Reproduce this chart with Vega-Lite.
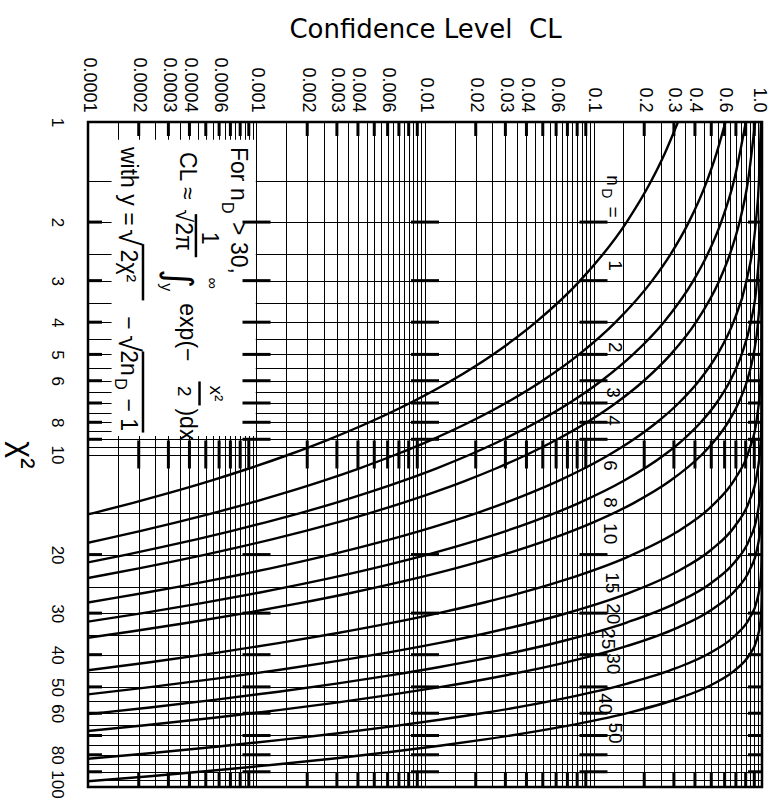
{
"$schema":"https://vega.github.io/schema/vega-lite/v6.json",
"width":674,"height":665,
"autosize":{"type":"none"},
"padding":{"left":88,"top":122,"right":7,"bottom":13},
"background":"white",
"config":{"view":{"stroke":"#000","strokeWidth":2.5},"font":"Liberation Sans"},
"datasets":{
"box":[{"cl":0.000138,"cl2":0.00099,"chi2":1.13,"chi22":8.8}],
"curves":[
{"n":1,"chi2":1,"cl":0.3173},{"n":1,"chi2":1.25,"cl":0.2636},{"n":1,"chi2":1.5,"cl":0.2207},{"n":1,"chi2":2,"cl":0.1573},{"n":1,"chi2":3,"cl":0.0833},{"n":1,"chi2":4,"cl":0.0455},{"n":1,"chi2":5,"cl":0.02535},{"n":1,"chi2":6,"cl":0.01431},{"n":1,"chi2":7,"cl":0.00815},{"n":1,"chi2":8,"cl":0.00468},{"n":1,"chi2":9,"cl":0.0027},{"n":1,"chi2":10,"cl":0.001565},{"n":1,"chi2":11,"cl":0.000911},{"n":1,"chi2":12,"cl":0.000532},{"n":1,"chi2":13,"cl":0.000311},{"n":1,"chi2":14,"cl":0.000183},{"n":1,"chi2":15,"cl":0.0001076},{"n":1,"chi2":16,"cl":0.0000633},
{"n":2,"chi2":1,"cl":0.6065},{"n":2,"chi2":1.25,"cl":0.5353},{"n":2,"chi2":1.5,"cl":0.4724},{"n":2,"chi2":2,"cl":0.3679},{"n":2,"chi2":2.5,"cl":0.2865},{"n":2,"chi2":3,"cl":0.2231},{"n":2,"chi2":4,"cl":0.1353},{"n":2,"chi2":5,"cl":0.0821},{"n":2,"chi2":6,"cl":0.04979},{"n":2,"chi2":7,"cl":0.0302},{"n":2,"chi2":8,"cl":0.01832},{"n":2,"chi2":9,"cl":0.01111},{"n":2,"chi2":10,"cl":0.006738},{"n":2,"chi2":11,"cl":0.004087},{"n":2,"chi2":12,"cl":0.002479},{"n":2,"chi2":13,"cl":0.001503},{"n":2,"chi2":14,"cl":0.000912},{"n":2,"chi2":15,"cl":0.000553},{"n":2,"chi2":16,"cl":0.000335},{"n":2,"chi2":17,"cl":0.0002035},{"n":2,"chi2":18,"cl":0.0001234},{"n":2,"chi2":19,"cl":0.0000749},{"n":2,"chi2":20,"cl":0.0000454},
{"n":3,"chi2":1,"cl":0.8013},{"n":3,"chi2":1.5,"cl":0.6823},{"n":3,"chi2":2,"cl":0.5724},{"n":3,"chi2":2.5,"cl":0.4753},{"n":3,"chi2":3,"cl":0.3916},{"n":3,"chi2":4,"cl":0.2615},{"n":3,"chi2":5,"cl":0.1718},{"n":3,"chi2":6,"cl":0.1116},{"n":3,"chi2":7,"cl":0.0719},{"n":3,"chi2":8,"cl":0.046},{"n":3,"chi2":9,"cl":0.02929},{"n":3,"chi2":10,"cl":0.01857},{"n":3,"chi2":11,"cl":0.01173},{"n":3,"chi2":12,"cl":0.00738},{"n":3,"chi2":13,"cl":0.004636},{"n":3,"chi2":14,"cl":0.00291},{"n":3,"chi2":15,"cl":0.001817},{"n":3,"chi2":16,"cl":0.001134},{"n":3,"chi2":17,"cl":0.000707},{"n":3,"chi2":18,"cl":0.00044},{"n":3,"chi2":19,"cl":0.000273},{"n":3,"chi2":20,"cl":0.00017},{"n":3,"chi2":21,"cl":0.0001053},{"n":3,"chi2":22,"cl":0.000065},
{"n":4,"chi2":1,"cl":0.9098},{"n":4,"chi2":1.5,"cl":0.8266},{"n":4,"chi2":2,"cl":0.7358},{"n":4,"chi2":2.5,"cl":0.6446},{"n":4,"chi2":3,"cl":0.5578},{"n":4,"chi2":4,"cl":0.406},{"n":4,"chi2":5,"cl":0.2873},{"n":4,"chi2":6,"cl":0.1991},{"n":4,"chi2":7,"cl":0.1359},{"n":4,"chi2":8,"cl":0.0916},{"n":4,"chi2":9,"cl":0.0611},{"n":4,"chi2":10,"cl":0.04043},{"n":4,"chi2":11,"cl":0.02656},{"n":4,"chi2":12,"cl":0.01735},{"n":4,"chi2":13,"cl":0.01128},{"n":4,"chi2":14,"cl":0.007295},{"n":4,"chi2":15,"cl":0.004701},{"n":4,"chi2":16,"cl":0.003019},{"n":4,"chi2":17,"cl":0.001933},{"n":4,"chi2":18,"cl":0.001234},{"n":4,"chi2":19,"cl":0.000786},{"n":4,"chi2":20,"cl":0.000499},{"n":4,"chi2":21,"cl":0.0003167},{"n":4,"chi2":22,"cl":0.0002004},{"n":4,"chi2":23,"cl":0.0001266},{"n":4,"chi2":24,"cl":0.0000799},{"n":4,"chi2":25,"cl":0.0000503},
{"n":6,"chi2":1,"cl":0.9856},{"n":6,"chi2":1.5,"cl":0.9595},{"n":6,"chi2":2,"cl":0.9197},{"n":6,"chi2":3,"cl":0.8088},{"n":6,"chi2":4,"cl":0.6767},{"n":6,"chi2":5,"cl":0.5438},{"n":6,"chi2":6,"cl":0.4232},{"n":6,"chi2":7,"cl":0.3208},{"n":6,"chi2":8,"cl":0.2381},{"n":6,"chi2":9,"cl":0.1736},{"n":6,"chi2":10,"cl":0.1247},{"n":6,"chi2":11,"cl":0.08838},{"n":6,"chi2":12,"cl":0.06197},{"n":6,"chi2":13,"cl":0.04304},{"n":6,"chi2":14,"cl":0.02964},{"n":6,"chi2":15,"cl":0.02026},{"n":6,"chi2":16,"cl":0.01375},{"n":6,"chi2":17,"cl":0.009283},{"n":6,"chi2":18,"cl":0.006232},{"n":6,"chi2":19,"cl":0.004164},{"n":6,"chi2":20,"cl":0.002769},{"n":6,"chi2":21,"cl":0.001835},{"n":6,"chi2":22,"cl":0.001211},{"n":6,"chi2":23,"cl":0.0007965},{"n":6,"chi2":24,"cl":0.000522},{"n":6,"chi2":25,"cl":0.0003415},{"n":6,"chi2":26,"cl":0.0002226},{"n":6,"chi2":27,"cl":0.0001448},{"n":6,"chi2":28,"cl":0.000094},{"n":6,"chi2":29,"cl":0.0000608},{"n":6,"chi2":30,"cl":0.0000393},
{"n":8,"chi2":1,"cl":0.99825},{"n":8,"chi2":1.5,"cl":0.9928},{"n":8,"chi2":2,"cl":0.981},{"n":8,"chi2":3,"cl":0.9344},{"n":8,"chi2":4,"cl":0.8571},{"n":8,"chi2":5,"cl":0.7576},{"n":8,"chi2":6,"cl":0.6472},{"n":8,"chi2":7,"cl":0.5366},{"n":8,"chi2":8,"cl":0.4335},{"n":8,"chi2":9,"cl":0.3423},{"n":8,"chi2":10,"cl":0.265},{"n":8,"chi2":12,"cl":0.1512},{"n":8,"chi2":14,"cl":0.08177},{"n":8,"chi2":16,"cl":0.04238},{"n":8,"chi2":18,"cl":0.02123},{"n":8,"chi2":20,"cl":0.01034},{"n":8,"chi2":22,"cl":0.004916},{"n":8,"chi2":24,"cl":0.002292},{"n":8,"chi2":26,"cl":0.00105},{"n":8,"chi2":28,"cl":0.000474},{"n":8,"chi2":30,"cl":0.0002114},{"n":8,"chi2":32,"cl":0.0000931},{"n":8,"chi2":34,"cl":0.0000406},
{"n":10,"chi2":1,"cl":0.99983},{"n":10,"chi2":1.5,"cl":0.99894},{"n":10,"chi2":2,"cl":0.99634},{"n":10,"chi2":3,"cl":0.98142},{"n":10,"chi2":4,"cl":0.94735},{"n":10,"chi2":5,"cl":0.89118},{"n":10,"chi2":6,"cl":0.81526},{"n":10,"chi2":7,"cl":0.72544},{"n":10,"chi2":8,"cl":0.62884},{"n":10,"chi2":9,"cl":0.5321},{"n":10,"chi2":10,"cl":0.44049},{"n":10,"chi2":12,"cl":0.28506},{"n":10,"chi2":14,"cl":0.17299},{"n":10,"chi2":16,"cl":0.09963},{"n":10,"chi2":18,"cl":0.05496},{"n":10,"chi2":20,"cl":0.029253},{"n":10,"chi2":22,"cl":0.015104},{"n":10,"chi2":24,"cl":0.0076},{"n":10,"chi2":26,"cl":0.00374},{"n":10,"chi2":28,"cl":0.001805},{"n":10,"chi2":30,"cl":0.000857},{"n":10,"chi2":32,"cl":0.0004004},{"n":10,"chi2":34,"cl":0.0001847},{"n":10,"chi2":36,"cl":0.0000842},{"n":10,"chi2":38,"cl":0.000038},
{"n":15,"chi2":0.8,"cl":0.9999997},{"n":15,"chi2":1.256,"cl":0.9999966},{"n":15,"chi2":1.856,"cl":0.99997},{"n":15,"chi2":2.623,"cl":0.99977},{"n":15,"chi2":3.575,"cl":0.99865},{"n":15,"chi2":4.735,"cl":0.99379},{"n":15,"chi2":6.122,"cl":0.97725},{"n":15,"chi2":7.755,"cl":0.93319},{"n":15,"chi2":9.657,"cl":0.84134},{"n":15,"chi2":11.846,"cl":0.69146},{"n":15,"chi2":14.343,"cl":0.5},{"n":15,"chi2":17.168,"cl":0.30854},{"n":15,"chi2":20.343,"cl":0.15866},{"n":15,"chi2":23.886,"cl":0.066807},{"n":15,"chi2":27.819,"cl":0.02275},{"n":15,"chi2":29.938,"cl":0.012224},{"n":15,"chi2":32.161,"cl":0.00621},{"n":15,"chi2":34.492,"cl":0.00298},{"n":15,"chi2":36.933,"cl":0.00135},{"n":15,"chi2":39.486,"cl":0.000577},{"n":15,"chi2":42.155,"cl":0.000233},{"n":15,"chi2":44.941,"cl":0.0000884},{"n":15,"chi2":47.848,"cl":0.0000317},
{"n":20,"chi2":0.906,"cl":0.999999999},{"n":20,"chi2":1.37,"cl":0.99999998},{"n":20,"chi2":1.97,"cl":0.9999997},{"n":20,"chi2":2.726,"cl":0.9999966},{"n":20,"chi2":3.651,"cl":0.99997},{"n":20,"chi2":4.766,"cl":0.99977},{"n":20,"chi2":6.087,"cl":0.99865},{"n":20,"chi2":7.633,"cl":0.99379},{"n":20,"chi2":9.421,"cl":0.97725},{"n":20,"chi2":11.468,"cl":0.93319},{"n":20,"chi2":13.792,"cl":0.84134},{"n":20,"chi2":16.41,"cl":0.69146},{"n":20,"chi2":19.341,"cl":0.5},{"n":20,"chi2":22.601,"cl":0.30854},{"n":20,"chi2":26.208,"cl":0.15866},{"n":20,"chi2":30.18,"cl":0.066807},{"n":20,"chi2":34.535,"cl":0.02275},{"n":20,"chi2":36.861,"cl":0.012224},{"n":20,"chi2":39.289,"cl":0.00621},{"n":20,"chi2":41.822,"cl":0.00298},{"n":20,"chi2":44.461,"cl":0.00135},{"n":20,"chi2":47.209,"cl":0.000577},{"n":20,"chi2":50.068,"cl":0.000233},{"n":20,"chi2":53.039,"cl":0.0000884},{"n":20,"chi2":56.127,"cl":0.0000317},
{"n":25,"chi2":0.908,"cl":0.9999999999},{"n":25,"chi2":1.925,"cl":0.999999999},{"n":25,"chi2":2.638,"cl":0.99999998},{"n":25,"chi2":3.509,"cl":0.9999997},{"n":25,"chi2":4.553,"cl":0.9999966},{"n":25,"chi2":5.787,"cl":0.99997},{"n":25,"chi2":7.224,"cl":0.99977},{"n":25,"chi2":8.882,"cl":0.99865},{"n":25,"chi2":10.777,"cl":0.99379},{"n":25,"chi2":12.923,"cl":0.97725},{"n":25,"chi2":15.336,"cl":0.93319},{"n":25,"chi2":18.033,"cl":0.84134},{"n":25,"chi2":21.029,"cl":0.69146},{"n":25,"chi2":24.339,"cl":0.5},{"n":25,"chi2":27.98,"cl":0.30854},{"n":25,"chi2":31.967,"cl":0.15866},{"n":25,"chi2":36.316,"cl":0.066807},{"n":25,"chi2":41.042,"cl":0.02275},{"n":25,"chi2":43.551,"cl":0.012224},{"n":25,"chi2":46.161,"cl":0.00621},{"n":25,"chi2":48.873,"cl":0.00298},{"n":25,"chi2":51.689,"cl":0.00135},{"n":25,"chi2":54.612,"cl":0.000577},{"n":25,"chi2":57.642,"cl":0.000233},{"n":25,"chi2":60.783,"cl":0.0000884},{"n":25,"chi2":64.035,"cl":0.0000317},
{"n":30,"chi2":0.843,"cl":1},{"n":30,"chi2":1.781,"cl":0.999999999999},{"n":30,"chi2":3.239,"cl":0.999999999},{"n":30,"chi2":4.199,"cl":0.99999998},{"n":30,"chi2":5.333,"cl":0.9999997},{"n":30,"chi2":6.653,"cl":0.9999966},{"n":30,"chi2":8.175,"cl":0.99997},{"n":30,"chi2":9.914,"cl":0.99977},{"n":30,"chi2":11.883,"cl":0.99865},{"n":30,"chi2":14.096,"cl":0.99379},{"n":30,"chi2":16.569,"cl":0.97725},{"n":30,"chi2":19.315,"cl":0.93319},{"n":30,"chi2":22.349,"cl":0.84134},{"n":30,"chi2":25.686,"cl":0.69146},{"n":30,"chi2":29.338,"cl":0.5},{"n":30,"chi2":33.322,"cl":0.30854},{"n":30,"chi2":37.651,"cl":0.15866},{"n":30,"chi2":42.339,"cl":0.066807},{"n":30,"chi2":47.401,"cl":0.02275},{"n":30,"chi2":50.077,"cl":0.012224},{"n":30,"chi2":52.852,"cl":0.00621},{"n":30,"chi2":55.727,"cl":0.00298},{"n":30,"chi2":58.705,"cl":0.00135},{"n":30,"chi2":61.787,"cl":0.000577},{"n":30,"chi2":64.975,"cl":0.000233},{"n":30,"chi2":68.271,"cl":0.0000884},{"n":30,"chi2":71.676,"cl":0.0000317},
{"n":40,"chi2":0.9,"cl":1},{"n":40,"chi2":4.22,"cl":0.999999999999},{"n":40,"chi2":6.555,"cl":0.999999999},{"n":40,"chi2":7.987,"cl":0.99999998},{"n":40,"chi2":9.615,"cl":0.9999997},{"n":40,"chi2":11.449,"cl":0.9999966},{"n":40,"chi2":13.504,"cl":0.99997},{"n":40,"chi2":15.79,"cl":0.99977},{"n":40,"chi2":18.321,"cl":0.99865},{"n":40,"chi2":21.109,"cl":0.99379},{"n":40,"chi2":24.166,"cl":0.97725},{"n":40,"chi2":27.505,"cl":0.93319},{"n":40,"chi2":31.138,"cl":0.84134},{"n":40,"chi2":35.078,"cl":0.69146},{"n":40,"chi2":39.337,"cl":0.5},{"n":40,"chi2":43.927,"cl":0.30854},{"n":40,"chi2":48.862,"cl":0.15866},{"n":40,"chi2":54.152,"cl":0.066807},{"n":40,"chi2":59.812,"cl":0.02275},{"n":40,"chi2":62.784,"cl":0.012224},{"n":40,"chi2":65.852,"cl":0.00621},{"n":40,"chi2":69.02,"cl":0.00298},{"n":40,"chi2":72.287,"cl":0.00135},{"n":40,"chi2":75.655,"cl":0.000577},{"n":40,"chi2":79.127,"cl":0.000233},{"n":40,"chi2":82.703,"cl":0.0000884},{"n":40,"chi2":86.385,"cl":0.0000317},
{"n":50,"chi2":0.9,"cl":1},{"n":50,"chi2":4.94,"cl":0.9999999999999},{"n":50,"chi2":7.397,"cl":0.999999999999},{"n":50,"chi2":10.562,"cl":0.999999999},{"n":50,"chi2":12.436,"cl":0.99999998},{"n":50,"chi2":14.52,"cl":0.9999997},{"n":50,"chi2":16.825,"cl":0.9999966},{"n":50,"chi2":19.362,"cl":0.99997},{"n":50,"chi2":22.142,"cl":0.99977},{"n":50,"chi2":25.176,"cl":0.99865},{"n":50,"chi2":28.475,"cl":0.99379},{"n":50,"chi2":32.05,"cl":0.97725},{"n":50,"chi2":35.913,"cl":0.93319},{"n":50,"chi2":40.074,"cl":0.84134},{"n":50,"chi2":44.545,"cl":0.69146},{"n":50,"chi2":49.336,"cl":0.5},{"n":50,"chi2":54.46,"cl":0.30854},{"n":50,"chi2":59.926,"cl":0.15866},{"n":50,"chi2":65.747,"cl":0.066807},{"n":50,"chi2":71.932,"cl":0.02275},{"n":50,"chi2":75.166,"cl":0.012224},{"n":50,"chi2":78.494,"cl":0.00621},{"n":50,"chi2":81.92,"cl":0.00298},{"n":50,"chi2":85.444,"cl":0.00135},{"n":50,"chi2":89.067,"cl":0.000577},{"n":50,"chi2":92.791,"cl":0.000233},{"n":50,"chi2":96.619,"cl":0.0000884},{"n":50,"chi2":100.549,"cl":0.0000317}
],
"vt":[
{"cl":0.0002,"chi2":1},{"cl":0.0003,"chi2":1},{"cl":0.0004,"chi2":1},{"cl":0.0005,"chi2":1},{"cl":0.0006,"chi2":1},{"cl":0.0007,"chi2":1},{"cl":0.0008,"chi2":1},{"cl":0.0009,"chi2":1},
{"cl":0.002,"chi2":1},{"cl":0.003,"chi2":1},{"cl":0.004,"chi2":1},{"cl":0.005,"chi2":1},{"cl":0.006,"chi2":1},{"cl":0.007,"chi2":1},{"cl":0.008,"chi2":1},{"cl":0.009,"chi2":1},
{"cl":0.02,"chi2":1},{"cl":0.03,"chi2":1},{"cl":0.04,"chi2":1},{"cl":0.05,"chi2":1},{"cl":0.06,"chi2":1},{"cl":0.07,"chi2":1},{"cl":0.08,"chi2":1},{"cl":0.09,"chi2":1},
{"cl":0.2,"chi2":1},{"cl":0.3,"chi2":1},{"cl":0.4,"chi2":1},{"cl":0.5,"chi2":1},{"cl":0.6,"chi2":1},{"cl":0.7,"chi2":1},{"cl":0.8,"chi2":1},{"cl":0.9,"chi2":1},
{"cl":0.0002,"chi2":10},{"cl":0.0003,"chi2":10},{"cl":0.0004,"chi2":10},{"cl":0.0005,"chi2":10},{"cl":0.0006,"chi2":10},{"cl":0.0007,"chi2":10},{"cl":0.0008,"chi2":10},{"cl":0.0009,"chi2":10},
{"cl":0.002,"chi2":10},{"cl":0.003,"chi2":10},{"cl":0.004,"chi2":10},{"cl":0.005,"chi2":10},{"cl":0.006,"chi2":10},{"cl":0.007,"chi2":10},{"cl":0.008,"chi2":10},{"cl":0.009,"chi2":10},
{"cl":0.02,"chi2":10},{"cl":0.03,"chi2":10},{"cl":0.04,"chi2":10},{"cl":0.05,"chi2":10},{"cl":0.06,"chi2":10},{"cl":0.07,"chi2":10},{"cl":0.08,"chi2":10},{"cl":0.09,"chi2":10},
{"cl":0.2,"chi2":10},{"cl":0.3,"chi2":10},{"cl":0.4,"chi2":10},{"cl":0.5,"chi2":10},{"cl":0.6,"chi2":10},{"cl":0.7,"chi2":10},{"cl":0.8,"chi2":10},{"cl":0.9,"chi2":10},
{"cl":0.0002,"chi2":100},{"cl":0.0003,"chi2":100},{"cl":0.0004,"chi2":100},{"cl":0.0005,"chi2":100},{"cl":0.0006,"chi2":100},{"cl":0.0007,"chi2":100},{"cl":0.0008,"chi2":100},{"cl":0.0009,"chi2":100},
{"cl":0.002,"chi2":100},{"cl":0.003,"chi2":100},{"cl":0.004,"chi2":100},{"cl":0.005,"chi2":100},{"cl":0.006,"chi2":100},{"cl":0.007,"chi2":100},{"cl":0.008,"chi2":100},{"cl":0.009,"chi2":100},
{"cl":0.02,"chi2":100},{"cl":0.03,"chi2":100},{"cl":0.04,"chi2":100},{"cl":0.05,"chi2":100},{"cl":0.06,"chi2":100},{"cl":0.07,"chi2":100},{"cl":0.08,"chi2":100},{"cl":0.09,"chi2":100},
{"cl":0.2,"chi2":100},{"cl":0.3,"chi2":100},{"cl":0.4,"chi2":100},{"cl":0.5,"chi2":100},{"cl":0.6,"chi2":100},{"cl":0.7,"chi2":100},{"cl":0.8,"chi2":100},{"cl":0.9,"chi2":100}
],
"ht":[
{"cl":0.0001,"chi2":2},{"cl":0.0001,"chi2":3},{"cl":0.0001,"chi2":4},{"cl":0.0001,"chi2":5},{"cl":0.0001,"chi2":6},{"cl":0.0001,"chi2":7},{"cl":0.0001,"chi2":8},{"cl":0.0001,"chi2":9},{"cl":0.0001,"chi2":20},{"cl":0.0001,"chi2":30},{"cl":0.0001,"chi2":40},{"cl":0.0001,"chi2":50},{"cl":0.0001,"chi2":60},{"cl":0.0001,"chi2":70},{"cl":0.0001,"chi2":80},{"cl":0.0001,"chi2":90},
{"cl":0.001,"chi2":2},{"cl":0.001,"chi2":3},{"cl":0.001,"chi2":4},{"cl":0.001,"chi2":5},{"cl":0.001,"chi2":6},{"cl":0.001,"chi2":7},{"cl":0.001,"chi2":8},{"cl":0.001,"chi2":9},{"cl":0.001,"chi2":20},{"cl":0.001,"chi2":30},{"cl":0.001,"chi2":40},{"cl":0.001,"chi2":50},{"cl":0.001,"chi2":60},{"cl":0.001,"chi2":70},{"cl":0.001,"chi2":80},{"cl":0.001,"chi2":90},
{"cl":0.01,"chi2":2},{"cl":0.01,"chi2":3},{"cl":0.01,"chi2":4},{"cl":0.01,"chi2":5},{"cl":0.01,"chi2":6},{"cl":0.01,"chi2":7},{"cl":0.01,"chi2":8},{"cl":0.01,"chi2":9},{"cl":0.01,"chi2":20},{"cl":0.01,"chi2":30},{"cl":0.01,"chi2":40},{"cl":0.01,"chi2":50},{"cl":0.01,"chi2":60},{"cl":0.01,"chi2":70},{"cl":0.01,"chi2":80},{"cl":0.01,"chi2":90},
{"cl":0.1,"chi2":2},{"cl":0.1,"chi2":3},{"cl":0.1,"chi2":4},{"cl":0.1,"chi2":5},{"cl":0.1,"chi2":6},{"cl":0.1,"chi2":7},{"cl":0.1,"chi2":8},{"cl":0.1,"chi2":9},{"cl":0.1,"chi2":20},{"cl":0.1,"chi2":30},{"cl":0.1,"chi2":40},{"cl":0.1,"chi2":50},{"cl":0.1,"chi2":60},{"cl":0.1,"chi2":70},{"cl":0.1,"chi2":80},{"cl":0.1,"chi2":90},
{"cl":1,"chi2":2},{"cl":1,"chi2":3},{"cl":1,"chi2":4},{"cl":1,"chi2":5},{"cl":1,"chi2":6},{"cl":1,"chi2":7},{"cl":1,"chi2":8},{"cl":1,"chi2":9},{"cl":1,"chi2":20},{"cl":1,"chi2":30},{"cl":1,"chi2":40},{"cl":1,"chi2":50},{"cl":1,"chi2":60},{"cl":1,"chi2":70},{"cl":1,"chi2":80},{"cl":1,"chi2":90}
],
"labels":[
{"cl":0.1305,"chi2":1.5,"t":"n"},{"cl":0.1305,"chi2":1.866,"t":"="},
{"cl":0.1341,"chi2":2.7,"t":"1"},{"cl":0.1341,"chi2":4.76,"t":"2"},{"cl":0.1305,"chi2":6.51,"t":"3"},{"cl":0.1305,"chi2":7.9,"t":"4"},{"cl":0.1253,"chi2":10.79,"t":"6"},{"cl":0.1253,"chi2":13.95,"t":"8"},{"cl":0.1253,"chi2":17.3,"t":"10"},{"cl":0.1288,"chi2":24.3,"t":"15"},{"cl":0.1305,"chi2":30.12,"t":"20"},{"cl":0.1219,"chi2":35.84,"t":"25"},{"cl":0.1305,"chi2":42.61,"t":"30"},{"cl":0.117,"chi2":56.2,"t":"40"},{"cl":0.1341,"chi2":68.8,"t":"50"}
],
"tc14":[{"cl":0.1186,"chi2":1.64,"t":"D"}],
"tc16":[{"cl":0.000548,"chi2":3.056,"t":"∞"},{"cl":0.00029,"chi2":3.14,"t":"y"}],
"tl23":[
{"cl":0.000777,"chi2":1.189,"t":"For n"},{"cl":0.000777,"chi2":2.0,"t":"> 30,"},
{"cl":0.000387,"chi2":1.231,"t":"CL ≈"},{"cl":0.000387,"chi2":3.51,"t":"exp(−"},{"cl":0.000387,"chi2":7.27,"t":")dx"},
{"cl":0.000173,"chi2":1.189,"t":"with y ="},{"cl":0.000173,"chi2":2.42,"t":"2χ²"},{"cl":0.000173,"chi2":3.84,"t":"−"},{"cl":0.000173,"chi2":4.86,"t":"2n"},{"cl":0.000173,"chi2":6.78,"t":"− 1"}
],
"tl30":[{"cl":0.000173,"chi2":2.1,"t":"√"},{"cl":0.000173,"chi2":4.38,"t":"√"}],
"tl16":[{"cl":0.000668,"chi2":1.741,"t":"D"},{"cl":0.000155,"chi2":5.9,"t":"D"}],
"tc23":[{"cl":0.000521,"chi2":2.236,"t":"1"},{"cl":0.000366,"chi2":2.115,"t":"√2π"}],
"tc19":[{"cl":0.000575,"chi2":6.55,"t":"x²"},{"cl":0.000371,"chi2":6.46,"t":"2"}],
"tc36":[{"cl":0.000342,"chi2":2.96,"t":"∫"}],
"bars":[{"cl":0.000437,"chi2":1.893,"chi22":2.551},{"cl":0.000459,"chi2":6.03,"chi22":7.12},{"cl":0.000212,"chi2":2.33,"chi22":3.44},{"cl":0.000212,"chi2":4.9,"chi22":8.59}]
},
"encoding":{
"x":{"field":"cl","type":"quantitative","scale":{"type":"log","domain":[0.0001,1],"nice":false},
"axis":{"orient":"top","values":[0.0001,0.00015,0.0002,0.00025,0.0003,0.00035,0.0004,0.00045,0.0005,0.00055,0.0006,0.00065,0.0007,0.00075,0.0008,0.00085,0.0009,0.00095,0.001,0.0015,0.002,0.0025,0.003,0.0035,0.004,0.0045,0.005,0.0055,0.006,0.0065,0.007,0.0075,0.008,0.0085,0.009,0.0095,0.01,0.015,0.02,0.025,0.03,0.035,0.04,0.045,0.05,0.055,0.06,0.065,0.07,0.075,0.08,0.085,0.09,0.095,0.1,0.15,0.2,0.25,0.3,0.35,0.4,0.45,0.5,0.55,0.6,0.65,0.7,0.75,0.8,0.85,0.9,0.95,1],
"labelExpr":"indexof([0.0001,0.0002,0.0003,0.0004,0.0006,0.001,0.002,0.003,0.004,0.006,0.01,0.02,0.03,0.04,0.06,0.1,0.2,0.3,0.4,0.6,1], datum.value) >= 0 ? (datum.value == 1 ? '1.0' : format(datum.value, '~g')) : ''",
"labelOffset":{"condition":{"test":"datum.value == 1","value":-4},"value":0},
"grid":true,"gridColor":"#000","gridWidth":1,"gridOpacity":1,"ticks":false,"tickSize":0,"domain":false,
"labelAngle":90,"labelAlign":"right","labelBaseline":"middle","labelPadding":10,"labelFont":"Liberation Sans","labelFontSize":18,"labelColor":"#000","labelOverlap":false,"labelFlush":false,"labelBound":false,
"title":"Confidence Level\u00a0\u00a0CL","titleFont":"DejaVu Sans","titleFontSize":26,"titleFontWeight":"normal","titleColor":"#000","titlePadding":14}},
"y":{"field":"chi2","type":"quantitative","scale":{"type":"log","domain":[1,100],"nice":false,"reverse":true},
"axis":{"orient":"left","values":[1,1.5,2,2.5,3,3.5,4,4.5,5,5.5,6,6.5,7,7.5,8,8.5,9,9.5,10,15,20,25,30,35,40,45,50,55,60,65,70,75,80,85,90,95,100],
"labelExpr":"indexof([1,2,3,4,5,6,8,10,20,30,40,50,60,80,100], datum.value) >= 0 ? format(datum.value, 'd') : ''",
"labelOffset":{"condition":{"test":"datum.value == 100","value":-3},"value":0},
"grid":true,"gridColor":"#000","gridWidth":1,"gridOpacity":1,"ticks":false,"tickSize":0,"domain":false,
"labelAngle":90,"labelAlign":"center","labelBaseline":"top","labelPadding":24,"labelFont":"Liberation Sans","labelFontSize":17,"labelColor":"#000","labelOverlap":false,"labelFlush":false,"labelBound":false,
"title":"χ²","titleFont":"Liberation Sans","titleFontSize":32,"titleFontWeight":"normal","titleColor":"#000","titleAngle":90,"titleBaseline":"top","titlePadding":12}}
},
"layer":[
{"data":{"name":"box"},"mark":{"type":"rect","fill":"white","stroke":null},"encoding":{"x2":{"field":"cl2"},"y2":{"field":"chi22"}}},
{"data":{"name":"vt"},"mark":{"type":"tick","orient":"vertical","color":"#000","thickness":3,"size":28,"clip":true,"opacity":1}},
{"data":{"name":"ht"},"mark":{"type":"tick","orient":"horizontal","color":"#000","thickness":3,"size":28,"clip":true,"opacity":1}},
{"data":{"name":"curves"},"mark":{"type":"line","interpolate":"monotone","clip":true,"color":"#000","strokeWidth":2.4},"encoding":{"detail":{"field":"n","type":"nominal"}}},
{"data":{"name":"labels"},"mark":{"type":"text","angle":90,"align":"center","baseline":"middle","font":"Liberation Sans","fontSize":19,"color":"#000"},"encoding":{"text":{"field":"t"}}},
{"data":{"name":"tc14"},"mark":{"type":"text","angle":90,"align":"center","baseline":"middle","font":"Liberation Sans","fontSize":14,"color":"#000"},"encoding":{"text":{"field":"t"}}},
{"data":{"name":"tc16"},"mark":{"type":"text","angle":90,"align":"center","baseline":"middle","font":"Liberation Sans","fontSize":16,"color":"#000"},"encoding":{"text":{"field":"t"}}},
{"data":{"name":"tl23"},"mark":{"type":"text","angle":90,"align":"left","baseline":"middle","font":"Liberation Sans","fontSize":23,"color":"#000"},"encoding":{"text":{"field":"t"}}},
{"data":{"name":"tl30"},"mark":{"type":"text","angle":90,"align":"left","baseline":"middle","font":"Liberation Sans","fontSize":30,"color":"#000"},"encoding":{"text":{"field":"t"}}},
{"data":{"name":"tl16"},"mark":{"type":"text","angle":90,"align":"left","baseline":"middle","font":"Liberation Sans","fontSize":16,"color":"#000"},"encoding":{"text":{"field":"t"}}},
{"data":{"name":"tc23"},"mark":{"type":"text","angle":90,"align":"center","baseline":"middle","font":"Liberation Sans","fontSize":23,"color":"#000"},"encoding":{"text":{"field":"t"}}},
{"data":{"name":"tc19"},"mark":{"type":"text","angle":90,"align":"center","baseline":"middle","font":"Liberation Sans","fontSize":19,"color":"#000"},"encoding":{"text":{"field":"t"}}},
{"data":{"name":"tc36"},"mark":{"type":"text","angle":90,"align":"center","baseline":"middle","font":"DejaVu Sans","fontSize":36,"color":"#000"},"encoding":{"text":{"field":"t"}}},
{"data":{"name":"bars"},"mark":{"type":"rule","color":"#000","strokeWidth":2.5},"encoding":{"y2":{"field":"chi22"}}}
]
}
